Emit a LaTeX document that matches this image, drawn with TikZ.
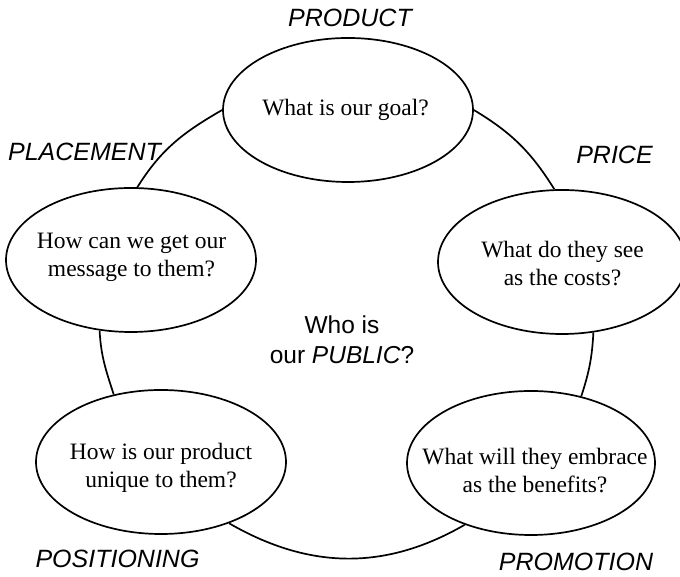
\documentclass[tikz,border=0pt]{standalone}
\usepackage{fontspec}
\setmainfont{Liberation Serif}
\setsansfont{Liberation Sans}
\usetikzlibrary{shapes.geometric}
\tikzset{
	bubble/.style={draw, ellipse, line width=1.7pt, minimum width=250pt, minimum height=144pt, inner sep=0pt},
	ask/.style={align=center, font=\fontsize{23.5}{28}\selectfont},
	tag/.style={font=\sffamily\itshape\fontsize{25}{30}\selectfont},
	rim/.style={line width=1.7pt}
}

\begin{document}
\begin{tikzpicture}[x=10pt, y=10pt]
			%%%%% START %%%%%
			\useasboundingbox (0, 0) rectangle (68, 57.7);
			
			\node[bubble] (goal) at (34.8, 46.7) {};
			\node[bubble] (message) at (13.1, 31.7) {};
			\node[bubble, minimum width=248pt] (costs) at (56.2, 31.5) {};
			\node[bubble] (unique) at (16.1, 11.5) {};
			\node[bubble, minimum width=248pt] (benefits) at (53.1, 11.4) {};
			
			\node[ask] (goal-q) at (34.55, 46.7) {What is our goal?};
			\node[ask] (message-q) at (13.15, 31.95) {How can we get our\\message to them?};
			\node[ask] (costs-q) at (56.25, 31.3) {What do they see\\as the costs?};
			\node[ask] (unique-q) at (16.1, 10.9) {How is our product\\unique to them?};
			\node[ask] (benefits-q) at (53.5, 10.65) {What will they embrace\\as the benefits?};
			
			\node[align=center, font=\sffamily\fontsize{24.5}{30}\selectfont] (public) at (34.2, 23.7) {Who is\\our \textit{PUBLIC}?};
			
			\node[tag] (product) at (35.0, 55.9) {PRODUCT};
			\node[tag] (placement) at (8.45, 42.5) {PLACEMENT};
			\node[tag] (price) at (61.45, 42.2) {PRICE};
			\node[tag] (positioning) at (11.75, 1.8) {POSITIONING};
			\node[tag] (promotion) at (57.6, 1.5) {PROMOTION};
			
			\draw[rim] (goal.west) to[out=210, in=58] (message.85);
			\draw[rim] (goal.east) to[out=-31, in=122] (costs.96);
			\draw[rim] (message.246) to[out=273, in=108] (unique.125);
			\draw[rim] (costs.294) to[out=267, in=72] (benefits.53);
			\draw[rim] (unique.318) to[out=-30, in=210] (benefits.223);
			
			%%%%% END %%%%%
\end{tikzpicture}
\end{document}
